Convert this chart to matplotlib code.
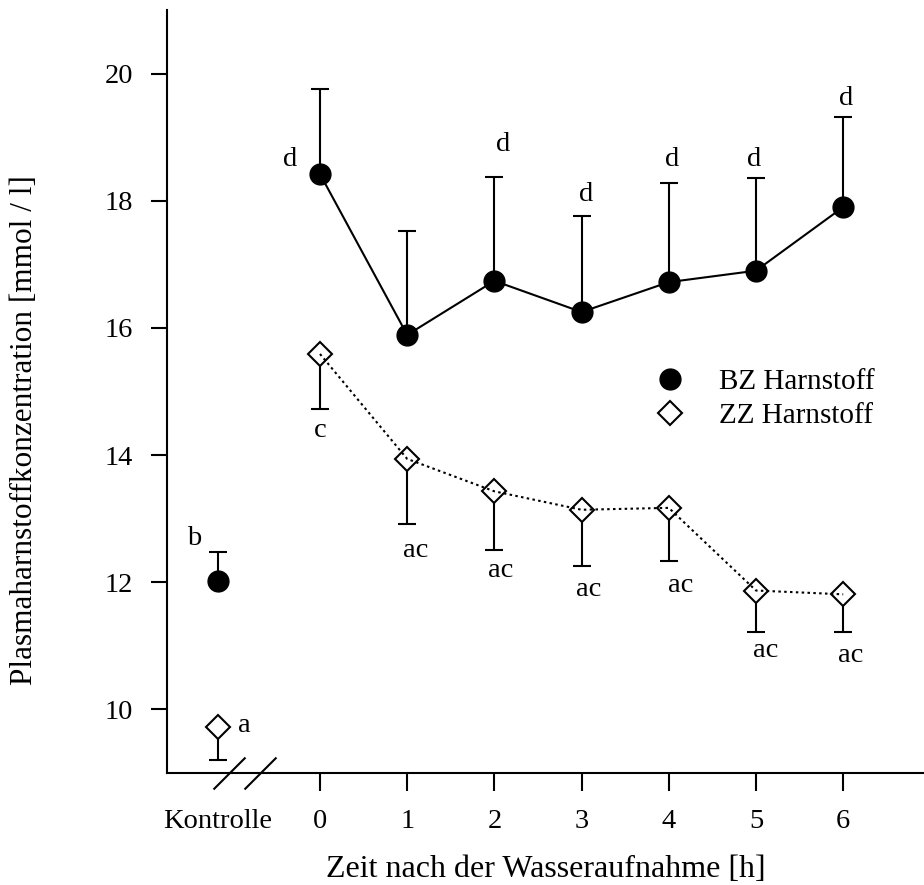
import matplotlib
matplotlib.use('Agg')
import matplotlib.pyplot as plt
from matplotlib.path import Path
from matplotlib.lines import Line2D
import numpy as np

plt.rcParams['font.family'] = ['Liberation Serif', 'DejaVu Serif']

# Zeitpunkte: Kontrolle, dann 0-6 h nach der Wasseraufnahme
tick_labels = ['Kontrolle', '0', '1', '2', '3', '4', '5', '6']

# BZ-Gruppe: Mittelwert und Standardabweichung (nach oben)
bz_mean = [12.02, 18.42, 15.89, 16.74, 16.25, 16.72, 16.90, 17.90]
bz_sd = [0.46, 1.34, 1.64, 1.64, 1.51, 1.56, 1.45, 1.42]
bz_letters = ['b', 'd', '', 'd', 'd', 'd', 'd', 'd']

# ZZ-Gruppe: Mittelwert und Standardabweichung (nach unten)
zz_mean = [9.73, 15.59, 13.94, 13.43, 13.14, 13.17, 11.87, 11.81]
zz_sd = [0.53, 0.86, 1.02, 0.92, 0.89, 0.84, 0.66, 0.60]
zz_letters = ['a', 'c', 'ac', 'ac', 'ac', 'ac', 'ac', 'ac']

x_ctrl = -1.17
x = np.array([x_ctrl] + list(range(7)), dtype=float)

# Buchstaben-Positionen (Datenkoordinaten, Grundlinie)
bz_letter_pos = [(-1.445, 12.59), (-0.34, 18.54), None, (2.10, 18.79),
                 (3.05, 17.99), (4.04, 18.54), (4.98, 18.54), (6.03, 19.51)]
zz_letter_pos = [(-0.87, 9.64), (0.0, 14.29), (1.10, 12.39), (2.07, 12.08),
                 (3.08, 11.78), (4.14, 11.84), (5.11, 10.82), (6.09, 10.75)]

fig = plt.figure(figsize=(9.24, 8.85), dpi=100)
ax = fig.add_axes([0.1807, 0.12655, 0.8193, 0.86215])

bz_mean = np.array(bz_mean)
zz_mean = np.array(zz_mean)
bz_sd = np.array(bz_sd)
zz_sd = np.array(zz_sd)

# Fehlerbalken
ax.errorbar(x, bz_mean, yerr=[np.zeros_like(bz_sd), bz_sd], fmt='none',
            ecolor='black', elinewidth=1.5, capsize=6.8, capthick=1.5, zorder=2)
ax.errorbar(x, zz_mean, yerr=[zz_sd, np.zeros_like(zz_sd)], fmt='none',
            ecolor='black', elinewidth=1.5, capsize=6.8, capthick=1.5, zorder=2)

# Verbindungslinien (ohne Kontrolle)
ax.plot(x[1:], bz_mean[1:], color='black', lw=1.5, zorder=3)
ax.plot(x, zz_mean, 'D', ms=12, mfc='white', mec='black', mew=1.5, zorder=3)
ax.plot(x[1:], zz_mean[1:], color='black', lw=1.5, ls=(0, (1.2, 1.6)), zorder=4)
ax.plot(x, bz_mean, 'o', ms=15, mfc='black', mec='black', zorder=5)

for lab, pos in zip(bz_letters, bz_letter_pos):
    if lab:
        ax.text(pos[0], pos[1], lab, ha='center', va='baseline', fontsize=20.5)
for lab, pos in zip(zz_letters, zz_letter_pos):
    ax.text(pos[0], pos[1], lab, ha='center', va='baseline', fontsize=20.5)

ax.set_xlim(-1.755, 6.927)
ax.set_ylim(9, 21)
ax.set_xticks(x)
ax.set_xticklabels(tick_labels)
ax.set_yticks([10, 12, 14, 16, 18, 20])
ax.xaxis.get_major_ticks()[0].tick1line.set_visible(False)

for side in ['top', 'right']:
    ax.spines[side].set_visible(False)
for side in ['left', 'bottom']:
    ax.spines[side].set_linewidth(1.5)
ax.tick_params(axis='y', direction='out', length=11.5, width=1.5, pad=13, labelsize=20.5)
ax.tick_params(axis='x', direction='out', length=13, width=1.5, pad=13, labelsize=20.5)

# Achsenunterbrechung
slash = Path([(-1, -1), (1, 1)], [Path.MOVETO, Path.LINETO])
ax.plot([-1.044, -0.688], [9, 9], ls='none', marker=slash, ms=23,
        color='black', mew=1.5, clip_on=False, zorder=6)

ax.set_xlabel('Zeit nach der Wasseraufnahme [h]', fontsize=23, va='baseline')
ax.xaxis.set_label_coords(0.5, -0.136)
ax.set_ylabel('Plasmaharnstoffkonzentration [mmol / l]', fontsize=22.5, va='center')
ax.yaxis.set_label_coords(-0.1876, 0.45)

handles = [Line2D([], [], ls='none', marker='o', ms=15, mfc='black', mec='black'),
           Line2D([], [], ls='none', marker='D', ms=12, mfc='white', mec='black', mew=1.5)]
ax.legend(handles, ['BZ Harnstoff', 'ZZ Harnstoff'], loc='upper left',
          bbox_to_anchor=(655 / 924, 1 - 369 / 885), bbox_transform=fig.transFigure,
          frameon=False, fontsize=21, handlelength=1.0, handletextpad=1.2,
          labelspacing=0.25, borderpad=0, borderaxespad=0)

plt.savefig('out.png', dpi=100, facecolor='white')
plt.close()
